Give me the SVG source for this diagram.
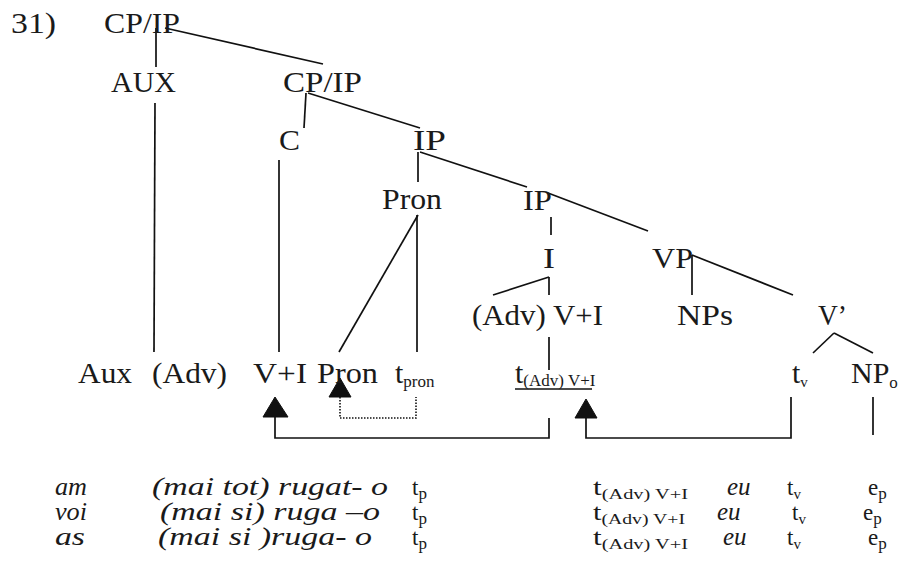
<svg xmlns="http://www.w3.org/2000/svg" width="907" height="588" viewBox="0 0 907 588">
<defs>
<style>
.t{font-family:"Liberation Serif","Times New Roman",serif;font-size:30px;fill:#1a1a1a}
.sub{font-family:"Liberation Serif","Times New Roman",serif;font-size:17px;fill:#1a1a1a}
.it{font-family:"Liberation Serif","Times New Roman",serif;font-style:italic;font-size:25px;fill:#1a1a1a}
.bt{font-family:"Liberation Serif","Times New Roman",serif;font-size:23px;fill:#1a1a1a}
.s15{font-size:15px}
.e{stroke:#111;stroke-width:1.7;fill:none;stroke-linecap:butt}
.d{stroke:#111;stroke-width:1.6;fill:none;stroke-dasharray:1.5 1.5}
.ah{fill:#111;stroke:#111;stroke-width:1}
</style>
</defs>
<rect width="907" height="588" fill="#ffffff"/>

<g id="connectors">
<line class="e" x1="165" y1="28" x2="323" y2="64"/>
<line class="e" x1="156" y1="28" x2="156" y2="67"/>
<line class="e" x1="155" y1="103" x2="154" y2="352"/>
<line class="e" x1="306" y1="93" x2="304" y2="128"/>
<line class="e" x1="308" y1="93" x2="420" y2="128"/>
<line class="e" x1="279" y1="160" x2="279" y2="352"/>
<line class="e" x1="420" y1="152" x2="527" y2="187"/>
<line class="e" x1="418" y1="152" x2="418" y2="182"/>
<line class="e" x1="418" y1="215" x2="339" y2="352"/>
<line class="e" x1="417" y1="215" x2="417" y2="352"/>
<line class="e" x1="548" y1="193" x2="648" y2="231"/>
<line class="e" x1="551" y1="217" x2="551" y2="235"/>
<line class="e" x1="549" y1="277" x2="549" y2="295"/>
<line class="e" x1="549" y1="277" x2="493" y2="295"/>
<line class="e" x1="549" y1="337" x2="549" y2="370"/>
<line class="e" x1="692" y1="255" x2="692" y2="295"/>
<line class="e" x1="692" y1="255" x2="793" y2="295"/>
<line class="e" x1="834" y1="333" x2="813" y2="353"/>
<line class="e" x1="834" y1="333" x2="873" y2="353"/>
<line class="e" x1="873" y1="397" x2="873" y2="435"/>
<path class="e" d="M275,417 V438 H549 V418"/>
<path class="d" d="M340,397 V418 H416 V397"/>
<path class="e" d="M586,418 V438 H791 V397"/>
<polygon class="ah" points="275,397 263,417 288,417"/>
<polygon class="ah" points="340,378 329,397 351,397"/>
<polygon class="ah" points="586,399 575,418 597,418"/>
<line class="e" x1="515" y1="389" x2="592" y2="389" stroke-width="1.3"/>
</g>

<g id="label-31"><text class="t" x="11" y="33" textLength="45" lengthAdjust="spacingAndGlyphs">31)</text></g>
<g id="node-cpip-top"><text class="t" x="104" y="33" textLength="76" lengthAdjust="spacingAndGlyphs">CP/IP</text></g>
<g id="node-aux"><text class="t" x="111" y="92" textLength="65" lengthAdjust="spacingAndGlyphs">AUX</text></g>
<g id="node-cpip"><text class="t" x="283" y="92" textLength="79" lengthAdjust="spacingAndGlyphs">CP/IP</text></g>
<g id="node-c"><text class="t" x="279" y="150" textLength="21" lengthAdjust="spacingAndGlyphs">C</text></g>
<g id="node-ip1"><text class="t" x="413" y="150" textLength="33" lengthAdjust="spacingAndGlyphs">IP</text></g>
<g id="node-pron"><text class="t" x="382" y="209" textLength="60" lengthAdjust="spacingAndGlyphs">Pron</text></g>
<g id="node-ip2"><text class="t" x="523" y="210" textLength="29" lengthAdjust="spacingAndGlyphs">IP</text></g>
<g id="node-i"><text class="t" x="543" y="268" textLength="12" lengthAdjust="spacingAndGlyphs">I</text></g>
<g id="node-vp"><text class="t" x="652" y="268" textLength="41" lengthAdjust="spacingAndGlyphs">VP</text></g>
<g id="node-advvi"><text class="t" x="472" y="325" textLength="131" lengthAdjust="spacingAndGlyphs">(Adv) V+I</text></g>
<g id="node-nps"><text class="t" x="677" y="325" textLength="56" lengthAdjust="spacingAndGlyphs">NPs</text></g>
<g id="node-vbar"><text class="t" x="818" y="325" textLength="29" lengthAdjust="spacingAndGlyphs">V’</text></g>

<g id="leaf-aux"><text class="t" x="78" y="383" textLength="54" lengthAdjust="spacingAndGlyphs">Aux</text></g>
<g id="leaf-adv"><text class="t" x="152" y="383" textLength="75" lengthAdjust="spacingAndGlyphs">(Adv)</text></g>
<g id="leaf-vi"><text class="t" x="253" y="383" textLength="54" lengthAdjust="spacingAndGlyphs">V+I</text></g>
<g id="leaf-pron"><text class="t" x="317" y="383" textLength="61" lengthAdjust="spacingAndGlyphs">Pron</text></g>
<g id="leaf-tpron"><text class="t" x="395" y="383">t<tspan class="sub" dy="4">pron</tspan></text></g>
<g id="leaf-tadv"><text class="t" x="515" y="383">t<tspan class="sub" font-size="14" dy="3">(Adv) V+I</tspan></text></g>
<g id="leaf-tv"><text class="t" x="792" y="383">t<tspan class="sub s15" dy="4">v</tspan></text></g>
<g id="leaf-npo"><text class="t" x="851" y="383">NP<tspan class="sub" dy="5">o</tspan></text></g>

<g id="row1">
<text class="it" x="55" y="495" textLength="32" lengthAdjust="spacingAndGlyphs">am</text>
<text class="it" x="152" y="495" textLength="236" lengthAdjust="spacingAndGlyphs">(mai tot) rugat- o</text>
<text class="bt" x="412" y="495">t<tspan class="sub" font-size="15" dy="4">p</tspan></text>
<text class="bt" x="593" y="495" textLength="95" lengthAdjust="spacingAndGlyphs">t<tspan class="sub s15" dy="4">(Adv) V+I</tspan></text>
<text class="it" x="727" y="495">eu</text>
<text class="bt" x="787" y="495">t<tspan class="sub s15" dy="4">v</tspan></text>
<text class="bt" x="868" y="495">e<tspan class="sub" font-size="15" dy="4">p</tspan></text>
</g>
<g id="row2">
<text class="it" x="55" y="520" textLength="32" lengthAdjust="spacingAndGlyphs">voi</text>
<text class="it" x="160" y="520" textLength="220" lengthAdjust="spacingAndGlyphs">(mai si) ruga –o</text>
<text class="bt" x="412" y="520">t<tspan class="sub" font-size="15" dy="4">p</tspan></text>
<text class="bt" x="593" y="520" textLength="92" lengthAdjust="spacingAndGlyphs">t<tspan class="sub s15" dy="4">(Adv) V+I</tspan></text>
<text class="it" x="717" y="520">eu</text>
<text class="bt" x="792" y="520">t<tspan class="sub s15" dy="4">v</tspan></text>
<text class="bt" x="863" y="520">e<tspan class="sub" font-size="15" dy="4">p</tspan></text>
</g>
<g id="row3">
<text class="it" x="55" y="545" textLength="30" lengthAdjust="spacingAndGlyphs">as</text>
<text class="it" x="158" y="545" textLength="214" lengthAdjust="spacingAndGlyphs">(mai si )ruga- o</text>
<text class="bt" x="412" y="545">t<tspan class="sub" font-size="15" dy="4">p</tspan></text>
<text class="bt" x="593" y="545" textLength="95" lengthAdjust="spacingAndGlyphs">t<tspan class="sub s15" dy="4">(Adv) V+I</tspan></text>
<text class="it" x="723" y="545">eu</text>
<text class="bt" x="787" y="545">t<tspan class="sub s15" dy="4">v</tspan></text>
<text class="bt" x="868" y="545">e<tspan class="sub" font-size="15" dy="4">p</tspan></text>
</g>
</svg>
